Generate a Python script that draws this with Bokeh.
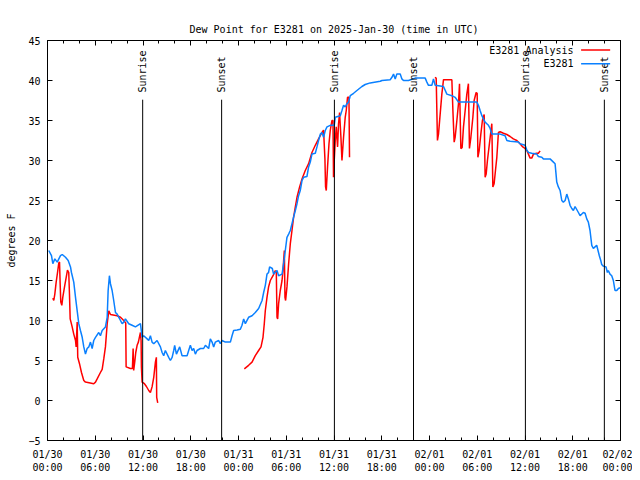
import math
from bokeh.plotting import figure
from bokeh.models import FixedTicker, LinearAxis, Range1d
from bokeh.core.properties import value
from bokeh.embed import file_html
from bokeh.resources import INLINE

# ---- data (hours since 2025-01-30 00:00 UTC, dew point in degrees F) ----
station_hours = [0.16, 0.50, 0.67, 0.92, 1.22, 1.63, 1.85, 2.26, 2.60, 2.89, 3.01, 3.30, 3.52, 3.77, 3.93,
    4.14, 4.36, 4.56, 4.77, 4.98, 5.19, 5.40, 5.61, 5.81, 6.03, 6.44, 6.65, 6.87, 7.28, 7.50, 7.62, 7.78,
    7.91, 8.12, 8.32, 8.54, 8.75, 9.17, 9.38, 9.58, 9.79, 10.21, 10.63, 11.05, 11.68, 11.89, 12.09, 12.52,
    12.72, 12.93, 13.14, 13.35, 13.77, 14.19, 14.40, 14.60, 14.81, 15.23, 15.44, 15.66, 15.86, 15.98, 16.20,
    16.61, 16.91, 17.54, 17.74, 17.95, 18.17, 18.37, 18.58, 18.79, 19.21, 19.62, 19.84, 20.25, 20.46, 20.68,
    20.88, 21.09, 21.51, 21.72, 21.93, 22.35, 22.98, 23.19, 23.39, 23.82, 24.23, 24.44, 24.65, 24.86, 25.27,
    25.70, 26.11, 26.53, 26.96, 27.16, 27.37, 27.58, 27.78, 27.91, 28.25, 28.41, 28.84, 29.04, 29.47, 29.67,
    29.88, 30.09, 30.30, 30.51, 30.72, 30.92, 31.14, 31.35, 31.55, 31.76, 31.98, 32.18, 32.60, 32.81, 33.02,
    33.23, 33.65, 33.86, 34.06, 34.28, 34.49, 34.69, 34.90, 35.12, 35.53, 36.03, 36.16, 36.79, 37.00, 37.20,
    37.41, 37.63, 37.83, 38.04, 38.46, 38.88, 39.51, 39.92, 40.55, 41.81, 42.02, 43.06, 43.28, 43.48, 43.69,
    43.90, 44.32, 44.53, 44.73, 45.36, 46.20, 47.46, 47.67, 47.87, 48.30, 48.50, 48.71, 49.76, 50.18, 50.81,
    51.22, 51.64, 53.95, 54.15, 54.36, 54.58, 54.78, 54.99, 55.20, 55.41, 55.62, 55.83, 56.87, 57.50, 57.72,
    58.13, 59.17, 59.38, 60.01, 60.23, 60.43, 60.85, 61.48, 61.68, 62.11, 62.31, 63.15, 63.57, 63.78, 63.90,
    63.99, 64.19, 64.41, 64.62, 64.82, 65.04, 65.25, 65.45, 65.66, 65.88, 66.08, 66.29, 66.71, 66.92, 67.33,
    67.55, 67.76, 67.96, 68.17, 68.39, 68.59, 68.80, 69.01, 69.34, 69.52, 69.64, 69.84, 70.18, 70.35, 70.47,
    70.68, 70.90, 71.10, 71.31, 71.53, 71.73, 71.94]
station_dewpt = [18.75, 18.1, 17.1, 17.7, 17.3, 18.1, 18.25, 17.9, 17.5, 16.7, 16.0, 14.8, 12.9, 10.9, 9.6,
    8.75, 7.9, 6.7, 5.8, 6.5, 6.7, 7.3, 6.5, 7.5, 7.9, 8.5, 8.1, 8.75, 9.2, 10.4, 13.75, 15.6,
    14.6, 13.75, 12.5, 11.0, 10.8, 10.0, 9.6, 9.8, 10.2, 9.6, 9.4, 9.2, 9.6, 7.9, 8.1, 7.7,
    7.5, 8.1, 7.3, 7.1, 7.5, 6.7, 6.0, 5.6, 6.25, 5.4, 5.0, 5.4, 6.25, 6.9, 5.8,
    6.7, 5.6, 5.6, 6.25, 6.9, 6.25, 6.5, 5.8, 6.25, 6.5, 6.5, 6.9, 6.5, 7.7, 7.3,
    6.7, 7.3, 7.5, 7.1, 7.5, 7.3, 7.3, 8.1, 8.75, 8.8, 8.9, 9.4, 10.2, 9.6, 10.4,
    10.6, 11.0, 11.5, 12.5, 13.5, 14.4, 15.8, 16.0, 16.7, 16.5, 15.8, 16.25, 15.6, 15.8, 17.1,
    18.75, 20.4, 20.8, 21.25, 22.1, 22.9, 23.75, 24.6, 25.6, 26.25, 27.5, 27.9, 28.0, 29.2, 29.8,
    30.8, 30.9, 31.7, 32.5, 33.3, 33.5, 32.9, 33.75, 34.2, 34.4, 34.4, 35.4, 35.6, 36.25, 36.9,
    36.7, 37.1, 37.3, 38.1, 38.4, 38.75, 39.25, 39.5, 39.7, 39.9, 40.0, 40.1, 40.4, 40.8, 40.2,
    40.8, 40.8, 40.2, 40.0, 40.0, 40.3, 40.3, 39.8, 39.4, 39.4, 40.2, 39.4, 39.25, 38.3, 38.1,
    37.9, 37.3, 37.3, 36.9, 36.25, 35.6, 35.2, 34.8, 34.6, 34.4, 34.0, 33.3, 33.3, 33.1, 32.5,
    32.4, 32.3, 32.1, 31.9, 31.3, 31.0, 30.9, 30.8, 30.5, 30.4, 30.2, 30.2, 29.8, 29.6, 28.3,
    27.3, 26.7, 26.25, 25.0, 24.8, 25.0, 25.8, 25.2, 24.4, 24.0, 23.75, 24.25, 23.5, 23.1, 23.5,
    23.4, 22.7, 22.3, 21.25, 19.4, 19.0, 19.2, 19.4, 18.1, 17.5, 17.0, 16.8, 16.7, 16.0, 16.25,
    15.8, 15.6, 15.0, 13.75, 13.75, 14.0, 14.1]

nan = float("nan")
analysis_hours = [0.67, 0.79, 0.92, 1.09, 1.26, 1.42, 1.51, 1.59, 1.67, 1.80, 1.92, 2.17, 2.35, 2.51, 2.67,
    2.76, 2.85, 3.10, 3.30, 3.52, 3.60, 3.73, 3.80, 4.02, 4.27, 4.56, 4.77, 5.81, 6.03, 6.24, 6.65, 6.87,
    7.07, 7.28, 7.50, 7.70, 7.91, 8.75, 9.17, 9.58, 9.83, 9.88, 10.42, 10.67, 10.76, 10.83, 10.96, 11.09,
    11.26, 11.42, 11.59, 11.68, 11.76, 11.80, 11.89, 12.18, 12.43, 12.72, 12.93, 13.14, 13.35, 13.56, 13.68,
    13.72, 13.85,
    nan,
    24.73, 25.27, 25.70, 26.11, 26.53, 26.83, 27.08, 27.24, 27.37, 27.58, 27.78, 28.00, 28.34, 28.63, 28.75,
    28.84, 28.92, 29.04, 29.25, 29.47, 29.59, 29.67, 29.76, 29.84, 29.92, 30.09, 30.30, 30.51, 30.72, 30.92,
    31.14, 31.35, 31.68, 31.98, 32.39, 32.81, 33.23, 33.65, 34.06, 34.49, 34.69, 34.86, 34.94, 35.03, 35.19,
    35.37, 35.53, 35.74, 35.87, 35.94, 36.03, 36.16, 36.28, 36.45, 36.57, 36.70, 36.87, 37.00, 37.20, 37.41,
    37.54, 37.70, 37.88, 37.95,
    nan,
    48.68, 48.84, 49.00, 49.13, 49.34, 49.55, 49.76, 50.81, 50.94, 51.10, 51.22, 51.44, 51.64, 51.77, 51.94,
    52.10, 52.27, 52.48, 52.69, 52.89, 53.02, 53.20, 53.45, 53.61, 53.86, 53.99, 54.08, 54.24, 54.45, 54.65,
    54.87, 54.99, 55.12, 55.28, 55.53, 55.83, 55.96, 56.12, 56.29, 56.46, 56.66, 56.87, 57.29, 57.72, 58.13,
    58.54, 58.97, 59.38, 59.72, 60.01, 60.23, 60.43, 60.64, 60.85, 61.06, 61.48, 61.68, 61.90]
analysis_dewpt = [12.8, 12.5, 13.3, 14.8, 16.0, 17.2, 17.3, 14.6, 12.3, 11.9, 12.9, 14.4, 15.4, 16.3, 16.0,
    13.3, 10.2, 9.2, 8.3, 7.5, 6.7, 9.8, 5.4, 4.6, 3.5, 2.5, 2.3, 2.1, 2.3, 2.7, 3.5, 3.9,
    5.2, 6.7, 9.6, 11.2, 10.75, 10.6, 10.4, 10.0, 9.7, 4.2, 4.0, 4.0, 6.5, 3.75, 4.8, 6.0,
    6.9, 7.3, 8.1, 8.5, 7.5, 4.2, 2.3, 2.1, 1.75, 1.25, 1.0, 1.7, 2.9, 4.8, 5.4,
    0.4, -0.3,
    nan,
    3.96, 4.4, 4.8, 5.6, 6.25, 6.7, 7.9, 9.6, 11.25, 12.9, 14.2, 15.0, 15.6, 16.25, 16.0,
    10.4, 10.2, 12.1, 13.75, 15.0, 16.25, 17.5, 18.75, 12.9, 12.5, 14.2, 17.1, 19.6, 21.25, 22.9,
    24.2, 25.4, 26.7, 27.7, 28.75, 29.6, 31.0, 31.9, 32.7, 33.5, 33.8, 30.2, 26.7, 26.25, 29.2,
    32.1, 33.75, 35.0, 35.0, 27.9, 30.0, 32.5, 34.2, 31.7, 34.6, 36.0, 32.9, 30.0, 32.9, 35.4,
    36.25, 37.9, 37.9, 30.4,
    nan,
    40.4, 40.3, 32.5, 33.3, 35.8, 38.3, 40.1, 40.1, 36.25, 32.3, 32.9, 35.0, 37.1, 39.6, 31.5,
    31.6, 34.2, 36.25, 38.3, 39.6, 31.5, 32.9, 35.4, 37.5, 38.5, 38.4, 30.4, 31.25, 33.3, 35.0,
    35.75, 27.9, 28.3, 30.0, 32.1, 34.6, 26.7, 27.1, 28.75, 30.4, 33.5, 33.6, 33.4, 33.25, 33.0,
    32.7, 32.5, 32.1, 31.7, 31.5, 31.25, 30.8, 30.3, 30.3, 30.8, 30.9, 30.9, 31.2]

sunrise_hours = [11.96, 36.05, 60.05]
sunset_hours = [21.88, 45.99, 69.97]

x_ticks = [0, 6, 12, 18, 24, 30, 36, 42, 48, 54, 60, 66, 72]
x_tick_labels = ["01/30\n00:00", "01/30\n06:00", "01/30\n12:00", "01/30\n18:00",
                 "01/31\n00:00", "01/31\n06:00", "01/31\n12:00", "01/31\n18:00",
                 "02/01\n00:00", "02/01\n06:00", "02/01\n12:00", "02/01\n18:00",
                 "02/02\n00:00"]
x_minor_ticks = list(range(0, 73, 2))
y_ticks = [-5, 0, 5, 10, 15, 20, 25, 30, 35, 40, 45]

legend_labels = ["E3281 Analysis", "E3281"]
title_text = "Dew Point for E3281 on 2025-Jan-30 (time in UTC)"

FONT = "DejaVu Sans Mono"
RED = "#ff0000"
BLUE = "#0a80ff"

p = figure(width=632, height=476,
           x_range=Range1d(0, 72), y_range=Range1d(-5, 45),
           output_backend="svg", toolbar_location=None,
           min_border_left=47, min_border_right=12, min_border_top=40, min_border_bottom=36,
           title=title_text)
p.background_fill_color = "white"
p.border_fill_color = "white"
p.outline_line_color = "black"
p.outline_line_width = 1
p.xgrid.visible = False
p.ygrid.visible = False

p.title.text_font = FONT
p.title.text_font_size = "10px"
p.title.text_font_style = "normal"
p.title.align = "center"
p.title.vertical_align = "middle"
p.title.text_color = "black"

def style_axis(ax):
    ax.axis_line_color = None
    ax.major_tick_in = 5
    ax.major_tick_out = 0
    ax.minor_tick_in = 3
    ax.minor_tick_out = 0
    ax.major_tick_line_color = "black"
    ax.minor_tick_line_color = "black"
    ax.major_label_text_font = FONT
    ax.major_label_text_font_size = "10px"
    ax.major_label_text_color = "black"
    ax.axis_label_text_font = FONT
    ax.axis_label_text_font_size = "10px"
    ax.axis_label_text_font_style = "normal"
    ax.axis_label_text_color = "black"

xa = p.xaxis[0]
xa.ticker = FixedTicker(ticks=x_ticks, minor_ticks=x_minor_ticks)
xa.major_label_overrides = {t: lab for t, lab in zip(x_ticks, x_tick_labels)}
style_axis(xa)
xa.major_label_standoff = 8

ya = p.yaxis[0]
ya.ticker = FixedTicker(ticks=y_ticks, minor_ticks=[])
style_axis(ya)
ya.major_label_standoff = 7
ya.axis_label = "degrees F"
ya.axis_label_standoff = 8

# mirrored tick marks (no labels) on top and right
top = LinearAxis(ticker=FixedTicker(ticks=x_ticks, minor_ticks=x_minor_ticks))
style_axis(top)
top.major_label_overrides = {t: "" for t in x_ticks}
top.major_label_standoff = 0
p.add_layout(top, "above")

right = LinearAxis(ticker=FixedTicker(ticks=y_ticks, minor_ticks=[]))
style_axis(right)
right.major_label_overrides = {t: "" for t in y_ticks}
right.major_label_standoff = 0
p.add_layout(right, "right")

# series
p.line(analysis_hours, analysis_dewpt, line_color=RED, line_width=1.5)
p.line(station_hours, station_dewpt, line_color=BLUE, line_width=1.5)

# sunrise / sunset markers
line_top = 37.6
label_y = 38.5
events = [(h, "Sunrise") for h in sunrise_hours] + [(h, "Sunset") for h in sunset_hours]
ev_x = [e[0] for e in events]
ev_t = [e[1] for e in events]
p.segment(x0=ev_x, y0=[-5] * len(ev_x), x1=ev_x, y1=[line_top] * len(ev_x),
          line_color="black", line_width=1)
p.text(x=ev_x, y=[label_y] * len(ev_x), text=ev_t, angle=math.pi / 2,
       text_align="left", text_baseline="middle",
       text_font=value(FONT), text_font_size="10px", text_color="black")

# legend (gnuplot style: text then sample)
leg_text_x = 66.1
leg_y = [43.8, 42.1]
leg_x0, leg_x1 = 67.05, 70.7
p.text(x=[leg_text_x] * 2, y=leg_y, text=legend_labels, text_align="right",
       text_baseline="middle", text_font=value(FONT), text_font_size="10px", text_color="black")
p.segment(x0=[leg_x0] * 2, y0=leg_y, x1=[leg_x1] * 2, y1=leg_y,
          line_color=[RED, BLUE], line_width=1.5)

open("out.html", "w").write(file_html(p, INLINE))
